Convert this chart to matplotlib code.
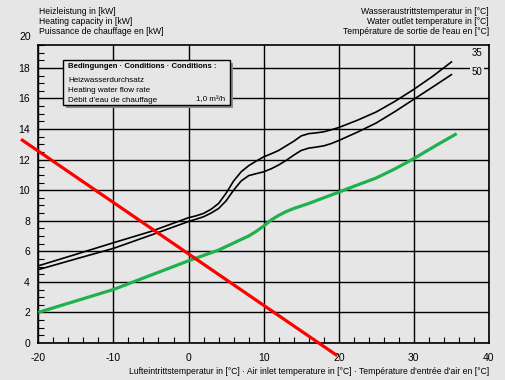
import matplotlib
matplotlib.use('Agg')
import matplotlib.pyplot as plt
from matplotlib.ticker import MultipleLocator
from matplotlib.patches import Rectangle
import matplotlib.transforms as mtransforms

plt.rcParams['font.family'] = ['Liberation Sans', 'DejaVu Sans']
plt.rcParams['axes.unicode_minus'] = False

BG = '#e6e6e6'

# heating capacity, water outlet 35 °C
x35 = [-20, -15, -10, -5, 0, 1, 2, 3, 4, 5, 6, 7, 8, 9, 10, 11, 12, 13, 14, 15, 16, 17, 18, 19, 20,
       22.5, 25, 27.5, 30, 32.5, 35]
y35 = [5.05, 5.8, 6.56, 7.3, 8.2, 8.32, 8.48, 8.75, 9.13, 9.8, 10.6, 11.2, 11.6, 11.9, 12.18, 12.38,
       12.6, 12.9, 13.2, 13.55, 13.7, 13.75, 13.82, 13.95, 14.1, 14.58, 15.12, 15.82, 16.6, 17.45, 18.39]
# heating capacity, water outlet 50 °C
x50 = [-20, -15, -10, -5, 0, 1, 2, 3, 4, 5, 6, 7, 8, 9, 10, 11, 12, 13, 14, 15, 16, 17, 18, 19, 20,
       22.5, 25, 27.5, 30, 32.5, 35]
y50 = [4.8, 5.5, 6.19, 7.06, 7.95, 8.1, 8.26, 8.5, 8.8, 9.3, 10.0, 10.6, 10.95, 11.08, 11.2, 11.4,
       11.65, 11.95, 12.29, 12.6, 12.75, 12.82, 12.9, 13.05, 13.25, 13.8, 14.4, 15.15, 15.95, 16.75, 17.56]
# green curve
xg = [-20, -10, 0, 4, 8, 9, 10, 11, 12, 13, 14, 16, 20, 22, 25, 27.5, 30, 33, 35.7]
yg = [2.0, 3.5, 5.38, 6.08, 7.0, 7.3, 7.65, 8.05, 8.35, 8.6, 8.8, 9.13, 9.87, 10.25, 10.8, 11.4,
      12.07, 12.94, 13.7]
# red line
xr = [-22.3, 19.8]
yr = [13.33, -0.83]

curve_labels = ['35', '50']

fig = plt.figure(figsize=(5.06, 3.8), dpi=100, facecolor=BG)
ax = fig.add_axes([0.0757, 0.0974, 0.8907, 0.7842], facecolor=BG)

ax.set_xlim(-20, 40)
ax.set_ylim(0, 19.5)
ax.xaxis.set_major_locator(MultipleLocator(10))
ax.xaxis.set_minor_locator(MultipleLocator(2))
ax.yaxis.set_major_locator(MultipleLocator(2))
ax.yaxis.set_minor_locator(MultipleLocator(0.5))
ax.grid(True, which='major', color='black', linewidth=1.0)
ax.tick_params(which='both', direction='in', labelsize=7.5, colors='black')
ax.tick_params(which='major', length=0, pad=6)
ax.tick_params(which='minor', length=4, width=0.8)
ax.tick_params(axis='x', pad=7)
for s in ax.spines.values():
    s.set_linewidth(1.2)

ax.plot(x35, y35, color='black', lw=1.2, zorder=3)
ax.plot(x50, y50, color='black', lw=1.2, zorder=3)
ax.plot(xg, yg, color='#20b04c', lw=2.3, zorder=3, solid_capstyle='butt')
ax.plot(xr, yr, color='#ff0000', lw=2.3, zorder=4, clip_on=False, solid_capstyle='butt')

ax.text(38.4, 18.97, curve_labels[0], fontsize=7, ha='center', va='center')
ax.text(38.4, 17.73, curve_labels[1], fontsize=7, ha='center', va='center',
        bbox=dict(facecolor=BG, edgecolor='none', pad=1.5), zorder=5)

# "20" sits above the frame
trans = mtransforms.blended_transform_factory(ax.transAxes, ax.transData)
ax.text(-0.015, 20, '20', transform=trans, fontsize=7.5, ha='right', va='center', clip_on=False)

# conditions box
def px(x, y):
    return x / 506, 1 - y / 380

x0, y0 = px(63, 105)
w, h = (230 - 63) / 506, (105 - 60) / 380
fig.patches.append(Rectangle((x0 + 3 / 506, y0 - 3 / 380), w, h, transform=fig.transFigure,
                             facecolor='#8c8c8c', edgecolor='none', zorder=5))
fig.patches.append(Rectangle((x0, y0), w, h, transform=fig.transFigure,
                             facecolor=BG, edgecolor='black', lw=1.0, zorder=6))
fig.text(*px(68, 67), 'Bedingungen · Conditions · Conditions :', fontsize=5.6, fontweight='bold',
         va='center', ha='left', zorder=7)
fig.text(*px(68, 81), 'Heizwasserdurchsatz', fontsize=5.8, va='center', zorder=7)
fig.text(*px(68, 91), 'Heating water flow rate', fontsize=5.8, va='center', zorder=7)
fig.text(*px(68, 100), "Débit d'eau de chauffage", fontsize=5.8, va='center', zorder=7)
fig.text(*px(225, 100), '1,0 m³/h', fontsize=5.8, va='center', ha='right', zorder=7)

# headers
for i, t in enumerate(['Heizleistung in [kW]', 'Heating capacity in [kW]', 'Puissance de chauffage en [kW]']):
    fig.text(*px(39, 11 + 10 * i), t, fontsize=6.2, va='center', ha='left')
for i, t in enumerate(['Wasseraustrittstemperatur in [°C]', 'Water outlet temperature in [°C]',
                       "Température de sortie de l'eau en [°C]"]):
    fig.text(*px(489, 11 + 10 * i), t, fontsize=6.2, va='center', ha='right')
fig.text(*px(489, 372), "Lufteintrittstemperatur in [°C] · Air inlet temperature in [°C] · Température d'entrée d'air en [°C]",
         fontsize=6.2, va='center', ha='right')

fig.savefig('out.png', dpi=100, facecolor=BG)
